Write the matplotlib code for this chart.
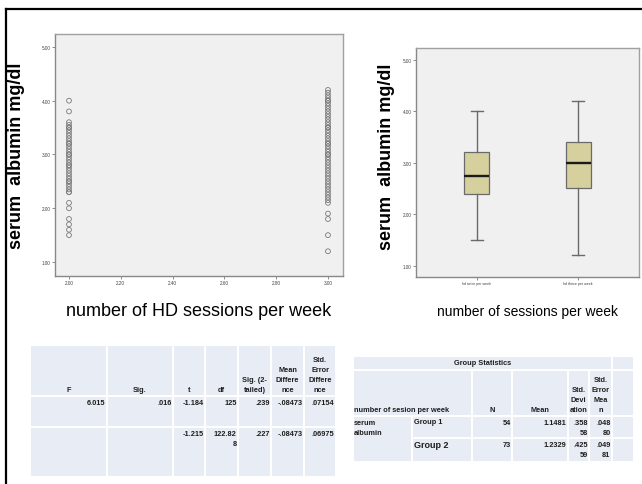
import matplotlib.pyplot as plt
from matplotlib.patches import Rectangle
from matplotlib.lines import Line2D

plt.rcParams['font.family'] = ['Liberation Sans', 'DejaVu Sans']

# serum albumin (mg/dl) per patient, by number of HD sessions per week
sessions = [2.0, 3.0]
albumin_twice = [4.0, 3.8, 3.6, 3.55, 3.5, 3.5, 3.45, 3.4, 3.35, 3.3, 3.25,
                 3.2, 3.2, 3.15, 3.1, 3.05, 3.0, 3.0, 2.95, 2.9, 2.85, 2.8,
                 2.8, 2.75, 2.7, 2.65, 2.6, 2.55, 2.5, 2.5, 2.45, 2.4, 2.35,
                 2.3, 2.3, 2.1, 2.0, 1.8, 1.7, 1.6, 1.5]
albumin_thrice = [4.2, 4.15, 4.1, 4.05, 4.0, 4.0, 3.95, 3.9, 3.85, 3.8, 3.75,
                  3.7, 3.65, 3.6, 3.55, 3.5, 3.5, 3.45, 3.4, 3.35, 3.3, 3.25,
                  3.2, 3.2, 3.15, 3.1, 3.05, 3.0, 3.0, 2.95, 2.9, 2.85, 2.8,
                  2.75, 2.7, 2.65, 2.6, 2.55, 2.5, 2.45, 2.4, 2.35, 2.3, 2.25,
                  2.2, 2.15, 2.1, 1.9, 1.8, 1.5, 1.2]

# boxplot summaries
box_labels = ['hd twice per week', 'hd thrice per week']
box_low = [1.5, 1.2]
box_q1 = [2.4, 2.5]
box_med = [2.75, 3.0]
box_q3 = [3.2, 3.4]
box_high = [4.0, 4.2]

# independent samples test
ttest_header = ['F', 'Sig.', 't', 'df', 'Sig. (2-\ntailed)',
                'Mean\nDiffere\nnce', 'Std.\nError\nDiffere\nnce']
ttest_row1 = ['6.015', '.016', '-1.184', '125', '.239', '-.08473', '.07154']
ttest_row2 = ['', '', '-1.215', '122.82\n8', '.227', '-.08473', '.06975']

# group statistics
group_title = 'Group Statistics'
group_header = ['number of sesion per week', 'N', 'Mean',
                'Std.\nDevi\nation', 'Std.\nError\nMea\nn']
group_var = 'serum\nalbumin'
group_names = ['Group 1', 'Group 2']
group_n = ['54', '73']
group_mean = ['1.1481', '1.2329']
group_sd = ['.358\n58', '.425\n59']
group_se = ['.048\n80', '.049\n81']

W, H = 642, 485
fig = plt.figure(figsize=(W / 100, H / 100), dpi=100)
fig.patch.set_facecolor('white')

PANEL = '#f0f0f0'
SPINE = '#a0a0a0'
CELL = '#e8ecf4'


def style_axes(ax):
    ax.set_facecolor(PANEL)
    for s in ax.spines.values():
        s.set_color(SPINE)
        s.set_linewidth(1.0)
    ax.spines['left'].set_color('#888888')
    ax.spines['bottom'].set_color('#888888')
    ax.tick_params(axis='both', length=2, width=0.5, color='#606060',
                   labelsize=3.3, labelcolor='#404040', pad=1)
    ax.set_yticks([1, 2, 3, 4, 5])
    ax.set_yticklabels(['%.2f' % v for v in [1, 2, 3, 4, 5]])


# scatter
ax1 = fig.add_axes([55 / W, 1 - 277 / H, 288 / W, 242 / H])
style_axes(ax1)
ax1.scatter([sessions[0]] * len(albumin_twice), albumin_twice, s=12,
            facecolors='none', edgecolors='#7a7a7a', linewidths=0.6)
ax1.scatter([sessions[1]] * len(albumin_thrice), albumin_thrice, s=12,
            facecolors='none', edgecolors='#7a7a7a', linewidths=0.6)
ax1.set_xlim(1.946, 3.058)
ax1.set_ylim(0.74, 5.24)
xt = [2.0, 2.2, 2.4, 2.6, 2.8, 3.0]
ax1.set_xticks(xt)
ax1.set_xticklabels(['%.2f' % v for v in xt])
ax1.set_ylabel('serum  albumin mg/dl', fontsize=13, fontweight='bold')
ax1.yaxis.set_label_coords(-0.104, 0.5)
ax1.set_xlabel('number of HD sessions per week', fontsize=13)
ax1.xaxis.set_label_coords(0.5, -0.107)

# boxplot
ax2 = fig.add_axes([416 / W, 1 - 278 / H, 223 / W, 229 / H])
style_axes(ax2)
stats = []
for i in range(len(box_labels)):
    stats.append({'label': box_labels[i], 'whislo': box_low[i],
                  'q1': box_q1[i], 'med': box_med[i], 'q3': box_q3[i],
                  'whishi': box_high[i], 'fliers': []})
ax2.bxp(stats, positions=[1, 2], widths=0.25, patch_artist=True,
        showfliers=False, capwidths=0.12,
        boxprops=dict(facecolor='#d6cf9e', edgecolor='#6a6a6a', linewidth=0.9),
        medianprops=dict(color='#1a1a1a', linewidth=1.7),
        whiskerprops=dict(color='#6a6a6a', linewidth=1.0),
        capprops=dict(color='#6a6a6a', linewidth=1.0))
ax2.set_xlim(0.4, 2.6)
ax2.set_ylim(0.78, 5.23)
ax2.tick_params(axis='x', labelsize=2.6)
ax2.set_ylabel('serum  albumin mg/dl', fontsize=13, fontweight='bold')
ax2.yaxis.set_label_coords(-0.094, 0.53)
ax2.set_xlabel('number of sessions per week', fontsize=10)
ax2.xaxis.set_label_coords(0.5, -0.118)

# tables, laid out in pixel units
tab = fig.add_axes([0, 0, 1, 1])
tab.set_xlim(0, W)
tab.set_ylim(H, 0)
tab.axis('off')
TXT = dict(fontsize=5.3, color='#1e1e1e', fontweight='bold', linespacing=1.6)


def cell(x0, x1, y0, y1):
    tab.add_patch(Rectangle((x0, y0), x1 - x0, y1 - y0, facecolor=CELL,
                            edgecolor='white', linewidth=1.4))


# independent samples test table
cx = [30, 107, 173, 205, 238, 271, 304, 336]
ry = [346, 397, 428, 478]
for r in range(3):
    for c in range(7):
        cell(cx[c], cx[c + 1], ry[r], ry[r + 1])
for c in range(7):
    tab.text((cx[c] + cx[c + 1]) / 2, ry[1] - 3, ttest_header[c],
             ha='center', va='bottom', **TXT)
    tab.text(cx[c + 1] - 1.5, ry[1] + 3, ttest_row1[c],
             ha='right', va='top', **TXT)
    tab.text(cx[c + 1] - 1.5, ry[2] + 3, ttest_row2[c],
             ha='right', va='top', **TXT)

# group statistics table
gx = [353, 412, 472, 512, 568, 589, 612, 634]
gy = [357, 371, 417, 439, 463]
cell(gx[0], gx[6], gy[0], gy[1])
cell(gx[6], gx[7], gy[0], gy[1])
tab.text((gx[0] + gx[6]) / 2, (gy[0] + gy[1]) / 2, group_title,
         ha='center', va='center', **TXT)
cell(gx[0], gx[2], gy[1], gy[2])
for c in range(2, 7):
    cell(gx[c], gx[c + 1], gy[1], gy[2])
tab.text(gx[0] + 1, gy[2] - 3, group_header[0], ha='left', va='bottom', **TXT)
for c in range(1, 5):
    tab.text((gx[c + 1] + gx[c + 2]) / 2, gy[2] - 3, group_header[c],
             ha='center', va='bottom', **TXT)
cell(gx[0], gx[1], gy[2], gy[4])
tab.text(gx[0] + 1, gy[2] + 3, group_var, ha='left', va='top', **TXT)
for r in range(2):
    for c in range(1, 7):
        cell(gx[c], gx[c + 1], gy[2 + r], gy[3 + r])
    vals = [group_n[r], group_mean[r], group_sd[r], group_se[r]]
    name_style = dict(TXT, fontsize=5.3 + 1.2 * r)
    tab.text(gx[1] + 1.5, gy[2 + r] + 2.5, group_names[r],
             ha='left', va='top', **name_style)
    for k, v in enumerate(vals):
        tab.text(gx[k + 3] - 1.5, gy[2 + r] + 3, v, ha='right', va='top', **TXT)

# outer frame
fig.add_artist(Line2D([6 / W, 1], [1 - 10 / H] * 2, color='black', lw=1.6,
                      transform=fig.transFigure))
fig.add_artist(Line2D([6 / W] * 2, [0, 1 - 10 / H], color='black', lw=1.6,
                      transform=fig.transFigure))

fig.savefig('out.png', dpi=100)
